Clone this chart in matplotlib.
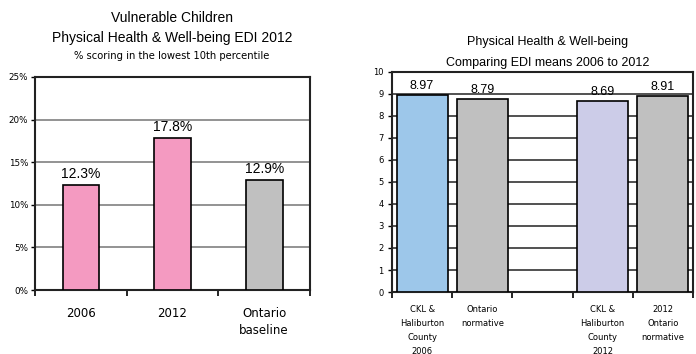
import matplotlib
matplotlib.use("Agg")
import matplotlib.pyplot as plt
from matplotlib.ticker import FixedLocator

plt.rcParams['font.family'] = ['Liberation Sans', 'DejaVu Sans']

# Vulnerable children (percent scoring in lowest 10th percentile)
vuln_labels = ["2006", "2012", "Ontario\nbaseline"]
vuln_values = [12.3, 17.8, 12.9]
vuln_text = ["12.3%", "17.8%", "12.9%"]
vuln_colors = ["#F49AC1", "#F49AC1", "#C0C0C0"]
vuln_yticks = [0, 5, 10, 15, 20, 25]

# EDI means comparison
edi_labels = ["CKL &\nHaliburton\nCounty\n2006", "Ontario\nnormative", "",
              "CKL &\nHaliburton\nCounty\n2012", "2012\nOntario\nnormative"]
edi_values = [8.97, 8.79, None, 8.69, 8.91]
edi_text = ["8.97", "8.79", "", "8.69", "8.91"]
edi_colors = ["#9DC7EA", "#C0C0C0", "#FFFFFF", "#CCCCE8", "#C0C0C0"]
edi_yticks = list(range(0, 11))

W, H = 696, 354
fig = plt.figure(figsize=(W / 100, H / 100), dpi=100)
fig.patch.set_facecolor("white")


def px_axes(x0, y0, x1, y1):
    return fig.add_axes([x0 / W, 1 - y1 / H, (x1 - x0) / W, (y1 - y0) / H])


def px_text(x, y, s, **kw):
    fig.text(x / W, 1 - y / H, s, ha="center", va="center", **kw)


# ---- left chart ----
ax1 = px_axes(35, 77, 310, 290)
xs = list(range(len(vuln_values)))
ax1.bar(xs, vuln_values, width=0.4, color=vuln_colors, edgecolor="black",
        linewidth=1.2, zorder=3)
for x, v, t in zip(xs, vuln_values, vuln_text):
    ax1.annotate(t, (x, v), xytext=(0, 3), textcoords="offset points",
                 ha="center", va="bottom", fontsize=10)
ax1.set_xlim(-0.5, 2.5)
ax1.set_ylim(0, 25)
ax1.set_yticks(vuln_yticks)
ax1.set_yticklabels([f"{v}%" for v in vuln_yticks], fontsize=6.3,
                    family=['DejaVu Sans'])
ax1.yaxis.grid(True, color="#808080", linewidth=1.2, zorder=0)
ax1.set_xticks(xs)
ax1.set_xticklabels(vuln_labels, fontsize=8.5, family=['DejaVu Sans'],
                    linespacing=1.4)
ax1.xaxis.set_minor_locator(FixedLocator([-0.5, 0.5, 1.5, 2.5]))
ax1.tick_params(axis="x", which="major", length=0, pad=12)
ax1.tick_params(axis="x", which="minor", length=4, width=1.2, direction="out")
ax1.tick_params(axis="y", length=3, width=1, pad=2)
for s in ax1.spines.values():
    s.set_linewidth(1.5)
    s.set_color("#222222")

px_text(172, 18, "Vulnerable Children", fontsize=10)
px_text(172, 38, "Physical Health & Well-being EDI 2012", fontsize=10)
px_text(172, 56, "% scoring in the lowest 10th percentile", fontsize=7.2,
        family=['DejaVu Sans'])

# ---- right chart ----
ax2 = px_axes(392, 72, 693, 292)
xs2 = list(range(len(edi_labels)))
for x, v, c in zip(xs2, edi_values, edi_colors):
    if v is None:
        continue
    ax2.bar(x, v, width=0.85, color=c, edgecolor="black", linewidth=1.2,
            zorder=3)
for x, v, t in zip(xs2, edi_values, edi_text):
    if v is None:
        continue
    ax2.annotate(t, (x, v), xytext=(0, 2), textcoords="offset points",
                 ha="center", va="bottom", fontsize=9)
ax2.set_xlim(-0.5, 4.5)
ax2.set_ylim(0, 10)
ax2.set_yticks(edi_yticks)
ax2.set_yticklabels([str(v) for v in edi_yticks], fontsize=6,
                    family=['DejaVu Sans'])
ax2.yaxis.grid(True, color="#333333", linewidth=1.2, zorder=0)
ax2.set_xticks(xs2)
ax2.set_xticklabels(edi_labels, fontsize=6, family=['DejaVu Sans'],
                    linespacing=1.75, va="top")
ax2.xaxis.set_minor_locator(FixedLocator([-0.5, 0.5, 1.5, 2.5, 3.5, 4.5]))
ax2.tick_params(axis="x", which="major", length=0, pad=9)
ax2.tick_params(axis="x", which="minor", length=4, width=1.2, direction="out")
ax2.tick_params(axis="y", length=3, width=1, pad=3)
for s in ax2.spines.values():
    s.set_linewidth(1.5)
    s.set_color("#222222")

px_text(548, 42, "Physical Health & Well-being", fontsize=9)
px_text(548, 63, "Comparing EDI means 2006 to 2012", fontsize=9)

fig.savefig("out.png", dpi=100)
